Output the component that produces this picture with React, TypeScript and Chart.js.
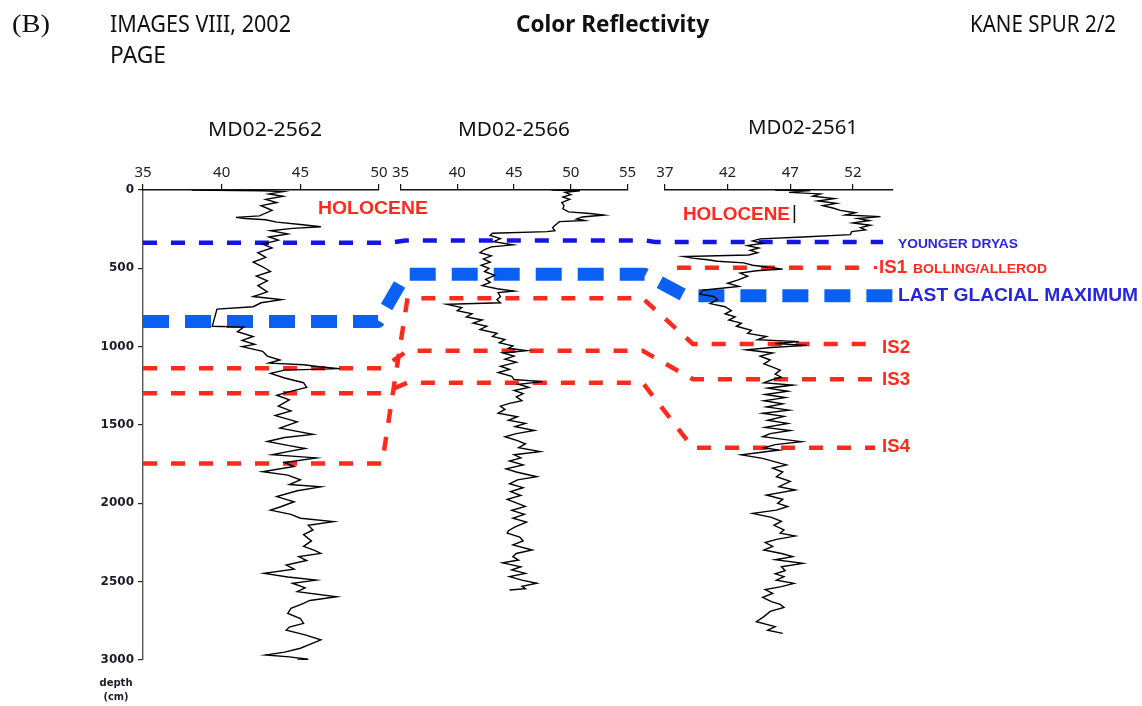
import React, { useEffect, useRef } from 'react';
import { Chart, registerables } from 'chart.js';

Chart.register(...registerables);

// ---- Core MD02-2562 (depth cm, colour reflectivity) ----
const depth2562 = [
  0, 3, 5, 10, 25, 40, 60, 80, 100, 130,
  165, 175, 182, 190, 205, 220, 235, 245, 260, 280,
  300, 320, 345, 370, 400, 430, 460, 490, 520, 550,
  580, 610, 650, 680, 700, 720, 745, 760, 870, 875,
  905, 935, 960, 985, 1000, 1030, 1060, 1085, 1105, 1115,
  1128, 1140, 1150, 1170, 1200, 1230, 1260, 1290, 1310, 1340,
  1380, 1410, 1440, 1480, 1520, 1560, 1580, 1605, 1630, 1650,
  1670, 1690, 1710, 1740, 1765, 1798, 1820, 1850, 1880, 1895,
  1920, 1957, 1990, 2020, 2043, 2070, 2095, 2117, 2140, 2170,
  2200, 2240, 2275, 2300, 2320, 2340, 2365, 2394, 2420, 2447,
  2470, 2490, 2510, 2540, 2564, 2596, 2620, 2638, 2670, 2702,
  2735, 2766, 2790, 2809, 2840, 2872, 2900, 2925, 2950, 2968,
  2980, 2995, 3000,
];
const refl2562 = [
  38.1, 41.0, 42.6, 43.9, 43.0, 43.9, 42.8, 43.5, 42.5, 43.2,
  42.4, 40.9, 41.5, 42.8, 43.5, 45.0, 46.3, 44.5, 43.1, 44.2,
  43.0, 43.6, 42.6, 43.2, 42.3, 42.8, 42.0, 42.6, 43.1, 42.2,
  42.9, 42.3, 42.9, 42.0, 43.8, 42.5, 42.0, 39.7, 39.4, 41.4,
  41.0, 42.0, 41.3, 42.1, 41.3, 42.6, 42.9, 43.7, 43.0, 45.2,
  46.2, 47.5, 44.0, 43.1, 44.0, 45.2, 45.4, 44.2, 43.5, 44.3,
  43.6, 44.4, 43.4, 44.8, 43.7, 45.8, 44.0, 42.9, 44.2, 45.3,
  44.2, 43.2, 46.0, 44.0, 44.6, 42.6, 44.2, 45.0, 44.3, 46.3,
  44.8, 43.5, 44.6, 43.8, 43.1, 44.4, 45.0, 47.1, 45.5, 45.8,
  45.2, 45.7, 45.2, 45.9, 46.3, 44.9, 45.4, 44.1, 44.6, 42.7,
  44.2, 46.0, 44.5, 45.3, 44.8, 47.3, 45.6, 45.2, 44.4, 44.2,
  45.0, 45.2, 44.3, 44.1, 45.3, 46.3, 45.6, 45.0, 44.0, 42.8,
  44.3, 45.5, 44.8,
];

// ---- Core MD02-2566 ----
const depth2566 = [
  0, 5, 15, 30, 45, 60, 80, 100, 120, 140,
  150, 160, 172, 185, 195, 202, 220, 240, 260, 266,
  276, 290, 310, 330, 350, 363, 380, 400, 420, 440,
  460, 480, 500, 520, 545, 570, 590, 610, 630, 645,
  655, 680, 700, 720, 730, 750, 770, 790, 810, 830,
  850, 870, 890, 915, 935, 955, 975, 995, 1010, 1025,
  1040, 1060, 1080, 1100, 1125, 1145, 1165, 1190, 1210, 1223,
  1240, 1260, 1280, 1300, 1320, 1345, 1362, 1380, 1400, 1425,
  1447, 1470, 1490, 1510, 1535, 1555, 1575, 1600, 1620, 1645,
  1670, 1690, 1710, 1730, 1755, 1780, 1800, 1830, 1850, 1875,
  1900, 1925, 1950, 1975, 2000, 2020, 2045, 2070, 2095, 2120,
  2150, 2175, 2190, 2215, 2240, 2265, 2298, 2320, 2340, 2362,
  2380, 2405, 2425, 2447, 2468, 2490, 2510, 2530, 2545, 2553,
];
const refl2566 = [
  48.3, 50.8, 49.5, 50.0, 49.3, 49.9, 49.2, 49.4, 49.3, 49.8,
  51.7, 52.9, 51.0, 50.5, 51.2, 49.0, 48.7, 48.4, 48.6, 47.9,
  43.1, 42.9, 43.8, 43.2, 44.9, 43.0, 42.4, 42.0, 43.0, 42.3,
  42.9, 42.1, 42.8, 42.4, 43.3, 42.5, 42.9, 42.2, 43.5, 45.0,
  43.6, 43.8, 43.5, 43.8, 39.1, 40.4, 40.0, 41.3, 40.8, 42.2,
  41.4, 42.6, 42.0, 43.5, 43.1, 44.2, 43.7, 44.9, 44.5, 46.1,
  44.0, 45.0, 44.2, 45.2, 43.8, 44.6, 43.6, 44.8, 45.0, 47.5,
  45.4, 46.3, 45.0, 45.8, 45.2, 45.7, 44.6, 43.8, 44.2, 43.6,
  45.3, 44.5, 46.0, 45.1, 46.8, 45.2, 44.2, 45.3, 46.0, 45.4,
  47.3, 45.0, 45.6, 44.6, 45.8, 44.3, 45.2, 47.0, 45.3, 44.6,
  45.8, 44.7, 45.6, 44.4, 45.3, 46.0, 44.8, 45.9, 44.9, 46.1,
  45.1, 44.5, 44.4, 45.5, 45.8, 44.9, 46.6, 45.2, 44.9, 45.4,
  44.0, 45.6, 44.8, 46.0, 44.6, 45.7, 47.0, 45.7, 46.0, 44.6,
];

// ---- Core MD02-2561 ----
const depth2561 = [
  0, 3, 15, 25, 40, 55, 70, 85, 100, 115,
  130, 145, 160, 170, 182, 195, 210, 225, 240, 255,
  266, 285, 300, 312, 325, 340, 355, 370, 385, 400,
  415, 425, 435, 445, 455, 465, 480, 495, 505, 515,
  530, 550, 575, 595, 615, 640, 665, 680, 700, 725,
  745, 770, 790, 810, 830, 850, 870, 895, 915, 935,
  955, 968, 980, 992, 1005, 1020, 1040, 1060, 1085, 1110,
  1130, 1150, 1175, 1195, 1213, 1230, 1245, 1265, 1285, 1305,
  1325, 1345, 1365, 1385, 1405, 1425, 1445, 1470, 1490, 1515,
  1535, 1555, 1575, 1590, 1606, 1625, 1645, 1660, 1691, 1713,
  1735, 1755, 1775, 1800, 1830, 1860, 1894, 1915, 1947, 1975,
  2000, 2020, 2043, 2064, 2090, 2115, 2140, 2170, 2190, 2209,
  2230, 2250, 2275, 2298, 2320, 2340, 2360, 2383, 2405, 2430,
  2450, 2468, 2490, 2511, 2532, 2550, 2575, 2600, 2627, 2645,
  2665, 2690, 2723, 2755, 2787, 2810, 2830,
];
const refl2561 = [
  45.8, 48.6, 46.9, 49.4, 48.8, 50.5, 49.2, 50.7, 49.6, 50.4,
  51.0, 52.2, 51.4, 54.2, 52.4, 53.3, 52.0, 53.4, 52.6, 53.0,
  51.9, 51.8, 48.0, 44.6, 44.0, 44.8, 43.6, 44.5, 43.8, 44.4,
  43.7, 38.5, 39.2, 40.4, 41.2, 43.3, 44.0, 45.4, 46.4, 44.3,
  43.0, 43.6, 42.8, 42.0, 42.9, 40.0, 39.8, 40.9, 41.2, 40.6,
  41.8, 42.3, 41.8, 42.6, 42.1, 43.1, 42.7, 43.9, 43.6, 45.1,
  44.4, 47.7, 45.8, 48.3, 45.5, 43.5, 45.6, 44.6, 45.4, 44.9,
  45.6, 46.2, 45.8, 46.3, 45.5, 44.9, 47.2, 45.2, 46.8, 45.0,
  46.6, 44.9, 46.4, 45.1, 46.9, 44.8, 46.5, 45.2, 46.8, 45.0,
  47.0, 45.4, 44.8, 46.3, 47.9, 45.8, 44.9, 46.1, 43.1, 44.8,
  45.8, 46.7, 45.6, 46.4, 45.9, 47.0, 46.1, 47.4, 45.1, 46.4,
  46.0, 46.8, 45.9, 44.0, 45.5, 46.3, 45.7, 46.5, 46.2, 47.4,
  45.9, 45.0, 45.6, 44.9, 46.3, 47.2, 45.8, 48.0, 46.3, 46.6,
  45.8, 46.5, 45.9, 47.3, 46.3, 45.0, 45.6, 44.8, 45.5, 46.2,
  46.5, 45.4, 44.9, 44.3, 45.8, 45.2, 46.4,
];

// ---- Axes ----
const coreNames = ['MD02-2562', 'MD02-2566', 'MD02-2561'];
const ticks2562 = [35, 40, 45, 50];
const ticks2566 = [35, 40, 45, 50, 55];
const ticks2561 = [37, 42, 47, 52];
const range2562 = [35, 50];
const range2566 = [35, 55];
const range2561 = [37, 55.2];
const depthTicks = [0, 500, 1000, 1500, 2000, 2500, 3000];

// ---- Correlation horizons: depth (cm) in each core [2562, 2566, 2561] ----
const youngerDryasDepth = [337, 322, 332];
const lgmDepth = [840, 538, 675];
const is1Depth = [null, null, 496];
const is2Depth = [1745, 691, 983];
const is3Depth = [1138, 1026, 1208];
const is4Depth = [1298, 1230, 1645];

const RED = '#ff2a1e';
const BLUE_THIN = '#1616e4';
const BLUE_THICK = '#0b60f4';
const BLUE_TEXT = '#2626da';
const SANS = '"Noto Sans", "Liberation Sans", sans-serif';
const ARIAL = '"Liberation Sans", Arial, sans-serif';

type Horizon = {
  depths: (number | null)[];
  color: string;
  width: number;
  dash: number[];
  starts: number[];
  ends: number[];
};

const horizons: Horizon[] = [
  { depths: is2Depth, color: RED, width: 4.5, dash: [14, 14], starts: [0, 7, 28], ends: [3, 15, -18] },
  { depths: is3Depth, color: RED, width: 4.5, dash: [14, 14], starts: [0, 7, 28], ends: [3, 15, -18] },
  { depths: is4Depth, color: RED, width: 4.5, dash: [14, 14], starts: [0, 7, 28], ends: [3, 15, -18] },
  { depths: is1Depth, color: RED, width: 4.5, dash: [14, 14], starts: [0, 0, 12], ends: [0, 0, -22] },
  { depths: youngerDryasDepth, color: BLUE_THIN, width: 4.5, dash: [14, 14], starts: [0, 5, -10], ends: [10, 18, -10] },
  { depths: lgmDepth, color: BLUE_THICK, width: 13, dash: [26, 16], starts: [0, 5, 20], ends: [-1, 17, 0] },
];

function fitText(
  ctx: CanvasRenderingContext2D, text: string, x: number, y: number, w: number,
  font: string, color: string, align: 'left' | 'center' = 'left',
) {
  ctx.save();
  ctx.font = font;
  const m = ctx.measureText(text).width || 1;
  const s = w / m;
  const x0 = align === 'center' ? x - w / 2 : x;
  ctx.translate(x0, y);
  ctx.scale(s, 1);
  ctx.fillStyle = color;
  ctx.textAlign = 'left';
  ctx.textBaseline = 'middle';
  ctx.fillText(text, 0, 0);
  ctx.restore();
}

const horizonPlugin = {
  id: 'horizons',
  beforeDatasetsDraw(chart: any) {
    const { ctx, scales } = chart;
    const y = scales.y;
    const panels = [scales.x1, scales.x2, scales.x3];
    ctx.save();
    ctx.lineCap = 'butt';
    ctx.lineJoin = 'round';
    horizons.forEach((h) => {
      ctx.strokeStyle = h.color;
      ctx.lineWidth = h.width;
      ctx.setLineDash(h.dash);
      ctx.lineDashOffset = 0;
      ctx.beginPath();
      let first = true;
      h.depths.forEach((d, i) => {
        if (d == null) return;
        const p = panels[i];
        const py = y.getPixelForValue(d);
        const xa = p.left + h.starts[i];
        const xb = p.right + h.ends[i];
        if (first) ctx.moveTo(xa, py);
        else ctx.lineTo(xa, py);
        ctx.lineTo(xb, py);
        first = false;
      });
      ctx.stroke();
    });
    ctx.restore();
  },
};

const textPlugin = {
  id: 'texts',
  afterDraw(chart: any) {
    const { ctx, scales } = chart;
    const x1 = scales.x1;
    const x3 = scales.x3;
    // header
    fitText(ctx, '(B)', 12, 25, 38, `25px "Liberation Serif", serif`, '#111');
    fitText(ctx, 'IMAGES VIII, 2002', 110, 25, 181, `24px ${SANS}`, '#111');
    fitText(ctx, 'PAGE', 110, 56, 56, `24px ${SANS}`, '#111');
    fitText(ctx, 'Color Reflectivity', 516, 25, 193, `bold 23px ${SANS}`, '#111');
    fitText(ctx, 'KANE SPUR 2/2', 970, 25, 146, `23px ${SANS}`, '#111');
    // core names
    fitText(ctx, coreNames[0], 208, 130, 114, `20px ${SANS}`, '#111');
    fitText(ctx, coreNames[1], 458, 130, 112, `20px ${SANS}`, '#111');
    fitText(ctx, coreNames[2], 748, 128, 110, `20px ${SANS}`, '#111');
    // holocene
    fitText(ctx, 'HOLOCENE', x1.left + 175, 209, 110, `bold 18px ${ARIAL}`, RED);
    fitText(ctx, 'HOLOCENE', x3.left + 18, 215, 107, `bold 18px ${ARIAL}`, RED);
    ctx.save();
    ctx.strokeStyle = '#111';
    ctx.lineWidth = 1.5;
    ctx.beginPath();
    ctx.moveTo(x3.left + 129.5, 205);
    ctx.lineTo(x3.left + 129.5, 223);
    ctx.stroke();
    ctx.restore();
    // right-side labels
    const rx = x3.right;
    fitText(ctx, 'YOUNGER DRYAS', rx + 5, 245, 120, `bold 12px ${ARIAL}`, BLUE_TEXT);
    ctx.save();
    ctx.fillStyle = RED;
    ctx.fillRect(rx - 19, 266, 3, 3);
    ctx.restore();
    fitText(ctx, 'IS1', rx - 14, 268, 28, `bold 18px ${ARIAL}`, RED);
    fitText(ctx, 'BOLLING/ALLEROD', rx + 20, 270, 134, `bold 12px ${ARIAL}`, RED);
    fitText(ctx, 'LAST GLACIAL MAXIMUM', rx + 5, 296, 240, `bold 18px ${ARIAL}`, BLUE_TEXT);
    fitText(ctx, 'IS2', rx - 11, 348, 28, `bold 18px ${ARIAL}`, RED);
    fitText(ctx, 'IS3', rx - 11, 380, 28, `bold 18px ${ARIAL}`, RED);
    fitText(ctx, 'IS4', rx - 11, 447, 28, `bold 18px ${ARIAL}`, RED);
    // depth label
    fitText(ctx, 'depth', 116, 683, 33, `bold 10px "DejaVu Sans", sans-serif`, '#1b1b2b', 'center');
    fitText(ctx, '(cm)', 116, 697, 25, `bold 10px "DejaVu Sans", sans-serif`, '#1b1b2b', 'center');
  },
};

export default function App() {
  const canvasRef = useRef<HTMLCanvasElement | null>(null);

  useEffect(() => {
    document.body.style.margin = '0';
    const canvas = canvasRef.current;
    if (!canvas) return;

    const toPts = (d: number[], v: number[]) => d.map((dep, i) => ({ x: v[i], y: dep }));

    const panelAxis = (range: number[], tickVals: number[], weight: number) => ({
      type: 'linear',
      axis: 'x',
      position: 'top',
      stack: 'cores',
      stackWeight: weight,
      offset: false,
      min: range[0],
      max: range[1],
      afterBuildTicks: (s: any) => {
        s.ticks = tickVals.map((v) => ({ value: v }));
      },
      afterFit: (s: any) => {
        s.height = 40;
      },
      grid: { drawOnChartArea: false, drawTicks: true, tickLength: 6, tickColor: '#111', lineWidth: 1.2, offset: false },
      border: { display: true, color: '#111', width: 1.4 },
      ticks: {
        color: '#222',
        font: { family: SANS, size: 15 },
        padding: 2,
        maxRotation: 0,
        autoSkip: false,
        callback: (v: any) => String(v),
      },
    });

    const spacer = (weight: number) => ({
      type: 'linear',
      axis: 'x',
      position: 'top',
      stack: 'cores',
      stackWeight: weight,
      display: false,
    });

    const lineDs = (d: number[], v: number[], xid: string) => ({
      data: toPts(d, v),
      xAxisID: xid,
      yAxisID: 'y',
      showLine: true,
      borderColor: '#000',
      borderWidth: 1.4,
      pointRadius: 0,
      pointHoverRadius: 0,
      fill: false,
      tension: 0,
    });

    // Top stacked boxes are laid out in reverse order of definition,
    // so the right-most core axis is defined first.
    const chart = new Chart(canvas, {
      type: 'scatter',
      data: {
        datasets: [
          lineDs(depth2562, refl2562, 'x1'),
          lineDs(depth2566, refl2566, 'x2'),
          lineDs(depth2561, refl2561, 'x3'),
        ] as any,
      },
      options: {
        responsive: false,
        animation: false,
        devicePixelRatio: 1,
        events: [],
        layout: { padding: { left: 0, right: 249, top: 150, bottom: 46 } },
        plugins: {
          legend: { display: false },
          tooltip: { enabled: false },
          title: { display: false },
        },
        scales: {
          y: {
            type: 'linear',
            position: 'left',
            reverse: true,
            offset: false,
            min: depthTicks[0],
            max: depthTicks[depthTicks.length - 1],
            afterBuildTicks: (s: any) => {
              s.ticks = depthTicks.map((v) => ({ value: v }));
            },
            afterFit: (s: any) => {
              s.width = 143;
            },
            grid: { drawOnChartArea: false, drawTicks: true, tickLength: 5, tickColor: '#222', lineWidth: 1.2, offset: false },
            border: { display: true, color: '#555', width: 1.4 },
            ticks: {
              color: '#1b1b2b',
              font: { family: '"DejaVu Sans", sans-serif', size: 12, weight: 'bold' },
              padding: 4,
              callback: (v: any) => String(v),
            },
          },
          x3: panelAxis(range2561, ticks2561, 228),
          g2: spacer(37.3),
          x2: panelAxis(range2566, ticks2566, 227),
          g1: spacer(21.4),
          x1: panelAxis(range2562, ticks2562, 236),
        } as any,
      },
      plugins: [horizonPlugin, textPlugin],
    });

    return () => chart.destroy();
  }, []);

  return <canvas ref={canvasRef} width={1142} height={706} style={{ display: 'block' }} />;
}
